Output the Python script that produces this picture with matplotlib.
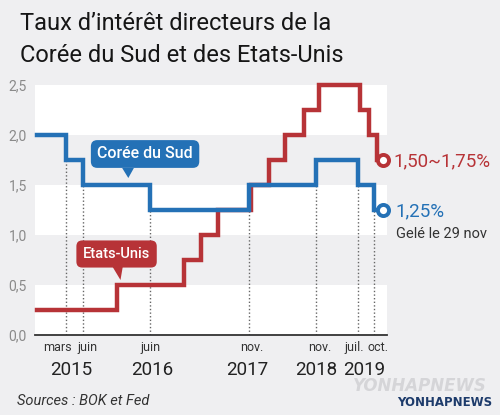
import pandas as pd
import matplotlib.pyplot as plt
import matplotlib as mpl
from matplotlib.patches import Polygon

mpl.rcParams['font.family'] = ['Roboto', 'DejaVu Sans']

# Data (policy rates, %)
korea_dates = ['2014-10-01', '2015-03-12', '2015-06-11', '2016-06-09', '2017-11-30',
               '2018-11-30', '2019-07-18', '2019-10-16', '2019-11-29']
korea_rates = [2.0, 1.75, 1.5, 1.25, 1.5, 1.75, 1.5, 1.25, 1.25]

us_dates = ['2014-10-01', '2015-12-16', '2016-12-14', '2017-03-15', '2017-06-14',
            '2017-12-13', '2018-03-21', '2018-06-13', '2018-09-26', '2018-12-19',
            '2019-07-31', '2019-09-18', '2019-10-30', '2019-11-29']
us_rates = [0.25, 0.5, 0.75, 1.0, 1.25, 1.5, 1.75, 2.0, 2.25, 2.5, 2.25, 2.0, 1.75, 1.75]

month_labels = ['mars', 'juin', 'juin', 'nov.', 'nov.', 'juil.', 'oct.']
month_label_dates = ['2015-01-22', '2015-07-05', '2016-06-15', '2017-12-18',
                     '2018-12-20', '2019-06-25', '2019-11-05']
year_labels = ['2015', '2016', '2017', '2018', '2019']
year_label_dates = ['2015-04-10', '2016-06-20', '2017-11-20', '2018-11-30', '2019-08-20']
y_ticks = [0.0, 0.5, 1.0, 1.5, 2.0, 2.5]

blue = '#2471b6'
red = '#b73337'
bg = '#efeff1'


def to_month(dates):
    d = pd.to_datetime(pd.Series(dates))
    return ((d - pd.Timestamp('2015-01-01')).dt.days / 30.44).tolist()


kx = to_month(korea_dates)
ux = to_month(us_dates)

fig = plt.figure(figsize=(5, 4.15), dpi=100, facecolor=bg)
W, H = 500, 415
ax = fig.add_axes([35 / W, (H - 335) / H, (387 - 35) / W, (335 - 85) / H])
ax.set_facecolor(bg)
ax.set_xlim(-3.3, 59.7)
ax.set_ylim(0, 2.5)

# white bands
for lo in [0.0, 1.0, 2.0]:
    ax.axhspan(lo, lo + 0.5, color='white', zorder=0, lw=0)

# dotted guide lines at each Korean rate change
for i in range(1, len(kx) - 1):
    top = min(korea_rates[i - 1], korea_rates[i])
    ax.plot([kx[i], kx[i]], [0, top], color='#666666', lw=1,
            linestyle=(0, (1, 1.6)), zorder=1)

ax.step(ux, us_rates, where='post', color=red, lw=3.2, zorder=3,
        solid_joinstyle='miter', clip_on=False)
ax.step(kx, korea_rates, where='post', color=blue, lw=3.2, zorder=4,
        solid_joinstyle='miter', clip_on=False)
ax.plot(ux[-1], us_rates[-1], 'o', ms=8, mfc='white', mec=red, mew=2.8, zorder=5, clip_on=False)
ax.plot(kx[-1], korea_rates[-1], 'o', ms=8, mfc='white', mec=blue, mew=2.8, zorder=5, clip_on=False)

# axes styling
for s in ['top', 'right', 'left']:
    ax.spines[s].set_visible(False)
ax.spines['bottom'].set_color('#333333')
ax.spines['bottom'].set_linewidth(1.3)
ax.set_xticks([])
ax.set_yticks(y_ticks)
ax.set_yticklabels([f'{v:.1f}'.replace('.', ',') for v in y_ticks],
                   color='#8a8a8a', fontsize=10)
ax.tick_params(axis='y', length=0, pad=6)

for lab, d in zip(month_labels, to_month(month_label_dates)):
    ax.text(d, -0.12, lab, ha='center', va='center', fontsize=9, color='#333333', clip_on=False)
for lab, d in zip(year_labels, to_month(year_label_dates)):
    ax.text(d, -0.35, lab, ha='center', va='center', fontsize=13.5, color='#222222', clip_on=False)

# callouts
ax.text(16.4, 1.81, 'Corée du Sud', ha='center', va='center', fontsize=11.5, color='white',
        weight='medium',
        bbox=dict(boxstyle='round,pad=0.4,rounding_size=0.4', fc=blue, ec='none'), zorder=6)
ax.add_patch(Polygon([[12.3, 1.67], [14.4, 1.67], [13.4, 1.57]], closed=True,
                     fc=blue, ec='none', zorder=6))
ax.text(11.3, 0.81, 'Etats-Unis', ha='center', va='center', fontsize=10.5, color='white',
        weight='medium',
        bbox=dict(boxstyle='round,pad=0.45,rounding_size=0.4', fc=red, ec='none'), zorder=6)
ax.add_patch(Polygon([[10.6, 0.68], [12.4, 0.68], [12.0, 0.55]], closed=True,
                     fc=red, ec='none', zorder=6))

# end labels
fig.text(393 / W, 1 - 161 / H, '1,50~1,75%', color=red, fontsize=13.5, va='center', ha='left')
fig.text(395 / W, 1 - 211 / H, '1,25%', color=blue, fontsize=13.5, va='center', ha='left')
fig.text(396 / W, 1 - 234 / H, 'Gelé le 29 nov', color='#333333', fontsize=10.5, va='center', ha='left')

# title
fig.text(20 / W, 1 - 23 / H, 'Taux d’intérêt directeurs de la', fontsize=17,
         color='#161616', va='center', ha='left')
fig.text(20 / W, 1 - 55 / H, 'Corée du Sud et des Etats-Unis', fontsize=17,
         color='#161616', va='center', ha='left')

# source and watermark
fig.text(17 / W, 1 - 401 / H, 'Sources : BOK et Fed', fontsize=10.5, style='italic',
         color='#333333', va='center', ha='left')
fig.text(487 / W, 1 - 386 / H, 'YONHAPNEWS', fontsize=12, style='italic', weight='bold',
         color='#d5d5d8', va='center', ha='right', family=['DejaVu Sans'])
fig.text(492 / W, 1 - 402 / H, 'YONHAPNEWS', fontsize=8.5, weight='bold',
         color='#1d3b6b', va='center', ha='right', family=['DejaVu Sans'])

fig.savefig('out.png', dpi=100, facecolor=bg)
